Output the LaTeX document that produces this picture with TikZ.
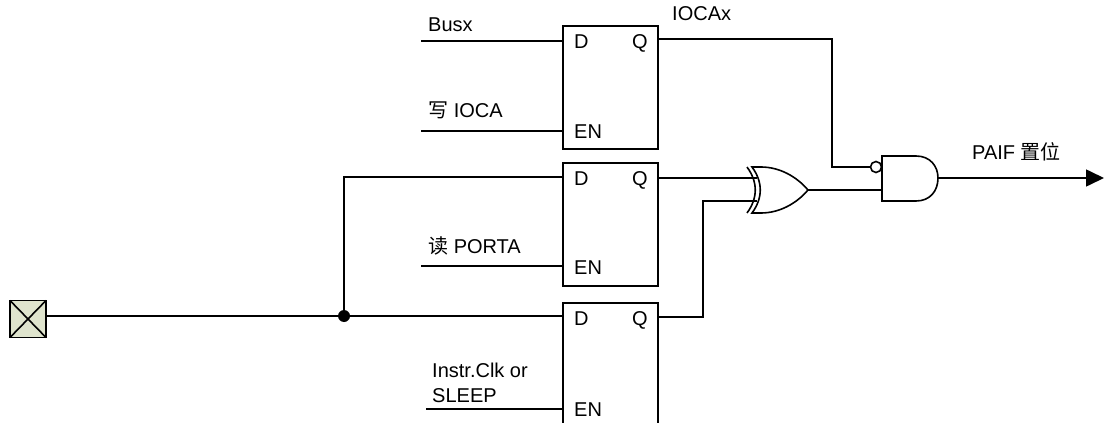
\documentclass[tikz,border=0pt]{standalone}
\usepackage{fontspec}
\setmainfont{Liberation Sans}
\newfontfamily\cjkfont{Noto Sans CJK SC}
\usetikzlibrary{arrows.meta}
\tikzset{
  wire/.style={line width=1.6pt,line join=miter},
  ffbox/.style={draw,line width=1.6pt,minimum width=95pt,minimum height=123pt,inner sep=0pt,outer sep=0pt,anchor=north west},
  lbl/.style={anchor=base west,inner sep=0pt,font=\fontsize{20}{22}\selectfont},
  pinlbl/.style={lbl}
}
\begin{document}
\begin{tikzpicture}[x=1pt,y=-1pt]
\useasboundingbox (0,0) rectangle (1104,423);
% flip-flops
\node[ffbox] (ffa) at (563,26) {};
\node[ffbox] (ffb) at (563,163) {};
\node[ffbox] (ffc) at (563,303) {};
% pin labels
\foreach \n/\y in {a/48,b/185,c/325}{
  \node[pinlbl] (d\n) at (574,\y) {D};
  \node[pinlbl] (q\n) at (632,\y) {Q};
}
\node[pinlbl] (ena) at (574,138) {EN};
\node[pinlbl] (enb) at (574,274) {EN};
\node[pinlbl] (enc) at (574,416) {EN};
% free ends and pins
\coordinate (busx) at (421,41);
\coordinate (wioca) at (421,131);
\coordinate (rporta) at (421,266);
\coordinate (iclk) at (426,409);
\coordinate (da) at (563,41);
\coordinate (ea) at (563,131);
\coordinate (db) at (563,177);
\coordinate (eb) at (563,266);
\coordinate (dc) at (563,316);
\coordinate (ec) at (563,409);
\coordinate (qa) at (658,39);
\coordinate (qb) at (658,178);
\coordinate (qc) at (658,317);
% input pad
\node[draw,line width=1.6pt,fill={rgb,255:red,223;green,228;blue,205},minimum width=36pt,minimum height=37pt,inner sep=0pt,outer sep=0pt,anchor=north west] (pad) at (10,300.5) {};
\draw[wire] (pad.north west) -- (pad.south east) (pad.north east) -- (pad.south west);
% junction
\node[circle,fill=black,minimum size=12pt,inner sep=0pt] (jct) at (344,316) {};
% XOR gate
\coordinate (xorin1) at (757,178);
\coordinate (xorin2) at (757,201);
\coordinate (xorout) at (808,190);
\draw[wire,fill=white] (752,167) -- (761,167) .. controls (780,167) and (797,177) .. (xorout)
   .. controls (797,203) and (780,213) .. (761,213) -- (752,213)
   .. controls (763,198) and (763,182) .. (752,167) -- cycle;
\draw[wire] (747,167) .. controls (758,182) and (758,198) .. (747,213);
% AND gate
\coordinate (andin2) at (882,190);
\coordinate (andout) at (938,178);
\draw[wire,fill=white] (882,156) -- (916,156) .. controls (930,156) and (938,166) .. (andout)
   .. controls (938,191) and (930,201) .. (916,201) -- (882,201) -- cycle;
\node[draw,circle,line width=1.6pt,fill=white,minimum size=11pt,inner sep=0pt,outer sep=0pt] (bub) at (876,167) {};
% output
\coordinate (out) at (1104,178);
% connectors
\draw[wire] (busx) -- (da);
\draw[wire] (wioca) -- (ea);
\draw[wire] (rporta) -- (eb);
\draw[wire] (iclk) -- (ec);
\draw[wire] (pad.east |- dc) -- (jct) -- (dc);
\draw[wire] (jct) -- (344,177) -- (db);
\draw[wire] (qa) -- (832,39) -- (832,167) -- (bub.west);
\draw[wire] (qb) -- (xorin1);
\draw[wire] (qc) -- (703,317) -- (703,201) -- (xorin2);
\draw[wire] (xorout) -- (andin2);
\draw[wire,-{Triangle[length=18pt,width=17pt]}] (andout) -- (out);
% labels
\node[lbl] (lbusx) at (428,31) {Busx};
\node[lbl] (lioca) at (672,20) {IOCAx};
\node[lbl] (lw) at (428,117) {{\cjkfont 写} IOCA};
\node[lbl] (lr) at (428,253) {{\cjkfont 读} PORTA};
\node[lbl] (li1) at (432,377) {Instr.Clk or};
\node[lbl] (li2) at (432,402) {SLEEP};
\node[lbl] (lp) at (972,159) {PAIF {\cjkfont 置位}};
\end{tikzpicture}
\end{document}
